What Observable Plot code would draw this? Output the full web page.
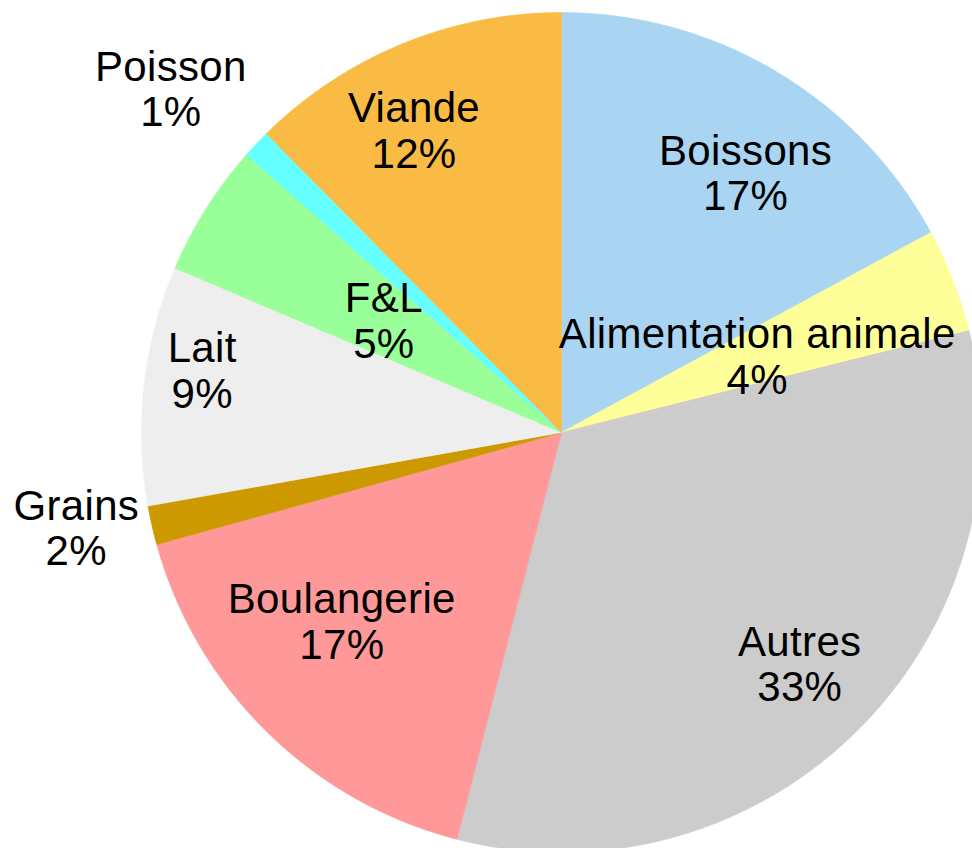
<!DOCTYPE html>
<html><head><meta charset="utf-8">
<script src="https://cdn.jsdelivr.net/npm/d3@7"></script>
<script src="https://cdn.jsdelivr.net/npm/@observablehq/plot@0.6"></script>
<style>html,body{margin:0;padding:0;background:#fff;overflow:hidden} svg text{letter-spacing:0.35px}</style>
</head><body><div id="chart"></div>
<script>
// ---- data ----
const categories = ["Boissons", "Alimentation animale", "Autres", "Boulangerie", "Grains", "Lait", "F&L", "Poisson", "Viande"];
const values = [17.1, 4.0, 32.9, 16.7, 1.5, 9.2, 5.1, 1.1, 12.4];
const colors = ["#a9d5f2", "#ffff99", "#cccccc", "#ff9999", "#cc9900", "#eeeeee", "#99ff99", "#66ffff", "#f9bb44"];

// ---- layout ----
const W = 972, H = 848, CX = 561, CY = 432, R = 420;
const FONT = 42, LH = 1.08, FAMILY = "'Liberation Sans', Arial, sans-serif";

const total = d3.sum(values);
const arcs = d3.pie().sort(null).value(d => d)(values);

// slice polygons in unit-circle coordinates (y up)
const slicePts = [];
arcs.forEach((a, i) => {
  const name = categories[i];
  slicePts.push({name, x: 0, y: 0});
  const n = Math.max(2, Math.ceil((a.endAngle - a.startAngle) / (Math.PI / 720)));
  for (let k = 0; k <= n; k++) {
    const t = a.startAngle + (a.endAngle - a.startAngle) * k / n;
    slicePts.push({name, x: Math.sin(t), y: Math.cos(t)});
  }
  slicePts.push({name, x: 0, y: 0});
});

// text measurement
const ctx = document.createElement("canvas").getContext("2d");
ctx.font = `${FONT}px ${FAMILY}`;
const measure = s => ctx.measureText(s).width + 0.35 * s.length;

const labels = arcs.map((a, i) => {
  const pct = values[i] / total * 100;
  const text = `${categories[i]}\n${Math.round(pct)}%`;
  const m = (a.startAngle + a.endAngle) / 2;
  const dx = Math.sin(m), dy = Math.cos(m); // y up
  const w = d3.max(text.split("\n"), measure);
  const h = 2 * FONT * 1.1;
  const hw = w / 2, hh = h / 2;
  const sx = Math.sign(dx), sy = Math.sign(dy);
  let px, py;
  if (pct < 2) {
    // outside the pie
    const d = R + 13;
    px = d * dx + (Math.abs(dx) > 0.5 ? sx * hw : 0);
    py = d * dy + (Math.abs(dy) > 0.5 ? sy * hh : 0);
  } else if (pct < 8) {
    // centroid
    px = R / 2 * dx; py = R / 2 * dy;
  } else {
    // best fit inside: pushed towards the rim
    const L = R - 11;
    // (A) centre on the bisector, outer corner on the rim
    const bA = Math.abs(dx) * hw + Math.abs(dy) * hh;
    const rA = -bA + Math.sqrt(bA * bA - (hw * hw + hh * hh - L * L));
    const ax = rA * dx, ay = rA * dy;
    // (B) inner corner on the bisector, outer corner on the rim
    const bB = Math.abs(dx) * w + Math.abs(dy) * h;
    const tB = -bB + Math.sqrt(bB * bB - (w * w + h * h - L * L));
    const bx = tB * dx + sx * hw, by = tB * dy + sy * hh;
    px = (ax + bx) / 2; py = (ay + by) / 2;
  }
  return {text, x: px / R, y: py / R};
});

const chart = Plot.plot({
  width: W, height: H,
  margin: 0,
  x: {domain: [-CX / R, (W - CX) / R], range: [0, W], axis: null},
  y: {domain: [CY / R, (CY - H) / R], range: [0, H], axis: null},
  color: {domain: categories, range: colors},
  style: {background: "#fff", fontFamily: FAMILY},
  marks: [
    Plot.line(slicePts, {x: "x", y: "y", z: "name", fill: "name", stroke: "name", strokeWidth: 0.6, curve: "linear"}),
    Plot.text(labels, {x: "x", y: "y", text: "text", fontSize: FONT, lineHeight: LH, fill: "#000", textAnchor: "middle", fontFamily: FAMILY})
  ]
});
document.getElementById("chart").appendChild(chart);
</script>
</body></html>
